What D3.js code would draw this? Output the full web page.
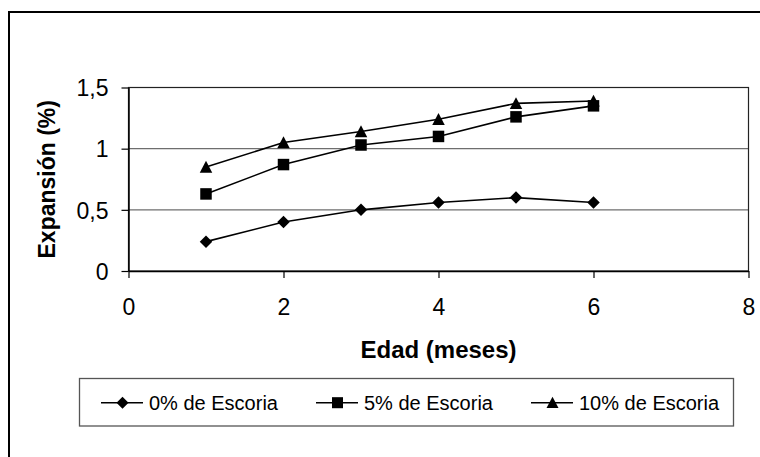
<!DOCTYPE html>
<html>
<head>
<meta charset="utf-8">
<script src="https://cdn.jsdelivr.net/npm/d3@7/dist/d3.min.js"></script>
<style>
  html, body { margin: 0; padding: 0; background: #fff; }
  svg { display: block; }
  text { font-family: "Liberation Sans", Arial, sans-serif; fill: #000; }
</style>
</head>
<body>
<svg id="chart" width="760" height="457"></svg>
<script>
// Edad en meses
const meses = [1, 2, 3, 4, 5, 6];
// Expansión (%) por contenido de escoria
const escoria0 = [0.24, 0.40, 0.50, 0.56, 0.60, 0.56];
const escoria5 = [0.63, 0.87, 1.03, 1.10, 1.26, 1.35];
const escoria10 = [0.85, 1.05, 1.14, 1.24, 1.37, 1.39];
const nombresSerie = ["0% de Escoria", "5% de Escoria", "10% de Escoria"];
const marcadores = ["diamond", "square", "triangle"];
const xTicks = [0, 2, 4, 6, 8];
const yTicks = [0, 0.5, 1, 1.5];

const series = [escoria0, escoria5, escoria10].map((vals, i) => ({
  name: nombresSerie[i],
  marker: marcadores[i],
  points: meses.map((m, j) => ({ x: m, y: vals[j] }))
}));

const svg = d3.select("#chart");

// Chart frame
svg.append("rect")
  .attr("x", 9).attr("y", 12)
  .attr("width", 800).attr("height", 500)
  .attr("fill", "#fff").attr("stroke", "#000").attr("stroke-width", 2);

const plot = { left: 128.5, right: 748.5, top: 87.5, bottom: 271 };
const x = d3.scaleLinear().domain([0, 8]).range([plot.left, plot.right]);
const y = d3.scaleLinear().domain([0, 1.5]).range([plot.bottom, plot.top]);

// Marker path generators
function markerPath(type, s) {
  const h = s / 2;
  if (type === "diamond") {
    return `M0,${-h}L${h},0L0,${h}L${-h},0Z`;
  }
  if (type === "square") {
    const q = s * 0.46;
    return `M${-q},${-q}H${q}V${q}H${-q}Z`;
  }
  return `M0,${-h}L${h},${h * 0.9}H${-h}Z`;
}

// Horizontal gridlines
svg.append("g")
  .selectAll("line")
  .data(yTicks.filter(v => v > 0 && v < 1.5))
  .join("line")
  .attr("x1", plot.left).attr("x2", plot.right)
  .attr("y1", d => y(d)).attr("y2", d => y(d))
  .attr("stroke", "#6e6e6e").attr("stroke-width", 1.2);

// Plot area border
svg.append("rect")
  .attr("x", plot.left).attr("y", plot.top)
  .attr("width", plot.right - plot.left).attr("height", plot.bottom - plot.top)
  .attr("fill", "none").attr("stroke", "#222").attr("stroke-width", 1.2);

const fmt = v => String(v).replace(".", ",");

// Y axis
const yAxis = svg.append("g")
  .attr("transform", `translate(${plot.left},0)`)
  .call(d3.axisLeft(y).tickValues(yTicks).tickFormat(fmt).tickSize(7).tickPadding(13).tickSizeOuter(0));
yAxis.select(".domain").attr("stroke", "#000").attr("stroke-width", 1.5);
yAxis.selectAll(".tick line").attr("stroke", "#000").attr("stroke-width", 1.2);
yAxis.selectAll("text")
  .style("font-family", '"Liberation Sans", Arial, sans-serif')
  .style("font-size", "23px").attr("fill", "#000").attr("dy", "0.36em");

// X axis
const xAxis = svg.append("g")
  .attr("transform", `translate(0,${plot.bottom})`)
  .call(d3.axisBottom(x).tickValues(xTicks).tickFormat(d3.format("d")).tickSize(7).tickPadding(21).tickSizeOuter(0));
xAxis.select(".domain").attr("stroke", "#000").attr("stroke-width", 1.5);
xAxis.selectAll(".tick line").attr("stroke", "#000").attr("stroke-width", 1.2);
xAxis.selectAll("text")
  .style("font-family", '"Liberation Sans", Arial, sans-serif')
  .style("font-size", "23px").attr("fill", "#000");

// Axis titles
svg.append("text")
  .attr("x", (plot.left + plot.right) / 2).attr("y", 357.5)
  .attr("text-anchor", "middle")
  .style("font-size", "24px").style("font-weight", "bold")
  .text("Edad (meses)");

svg.append("text")
  .attr("transform", `translate(55,${(plot.top + plot.bottom) / 2}) rotate(-90)`)
  .attr("text-anchor", "middle")
  .style("font-size", "23px").style("font-weight", "bold")
  .text("Expansión (%)");

// Series lines and markers
const line = d3.line().x(d => x(d.x)).y(d => y(d.y));
const gSeries = svg.append("g");
series.forEach(s => {
  gSeries.append("path")
    .attr("d", line(s.points))
    .attr("fill", "none").attr("stroke", "#000").attr("stroke-width", 1.6);
  gSeries.selectAll(null)
    .data(s.points)
    .join("path")
    .attr("transform", d => `translate(${x(d.x)},${y(d.y)})`)
    .attr("d", markerPath(s.marker, 12.5))
    .attr("fill", "#000");
});

// Legend
const legend = svg.append("g");
legend.append("rect")
  .attr("x", 79.5).attr("y", 378.5)
  .attr("width", 654).attr("height", 47.5)
  .attr("fill", "#fff").attr("stroke", "#555").attr("stroke-width", 1.3);

const legendY = 402.7;
series.forEach((s, i) => {
  const x0 = 101 + i * 215;
  const g = legend.append("g");
  g.append("line")
    .attr("x1", x0).attr("x2", x0 + 42)
    .attr("y1", legendY).attr("y2", legendY)
    .attr("stroke", "#000").attr("stroke-width", 1.6);
  g.append("path")
    .attr("transform", `translate(${x0 + 21.5},${legendY})`)
    .attr("d", markerPath(s.marker, 12))
    .attr("fill", "#000");
  g.append("text")
    .attr("x", x0 + 48).attr("y", legendY + 7)
    .style("font-size", "20px")
    .text(s.name);
});
</script>
</body>
</html>
